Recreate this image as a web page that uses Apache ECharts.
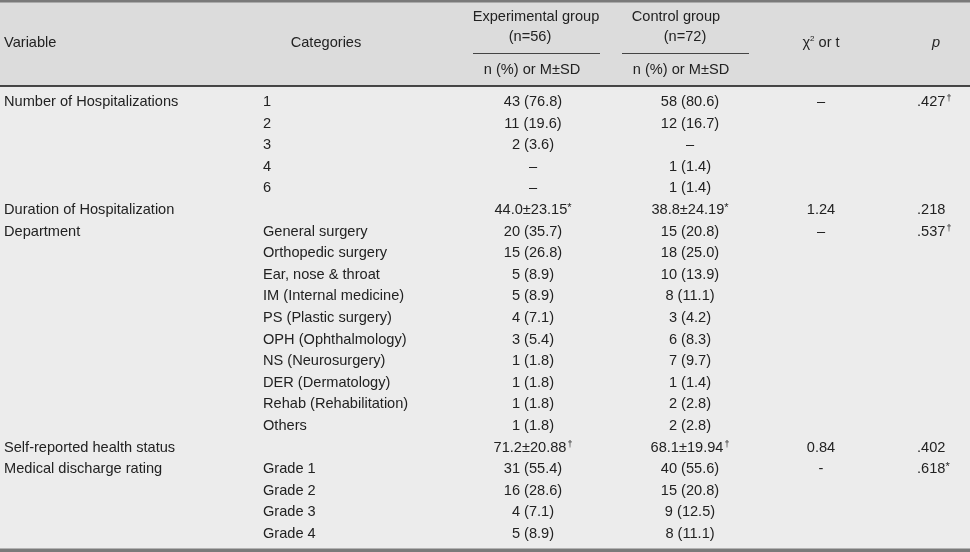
<!DOCTYPE html>
<html><head><meta charset="utf-8">
<script src="https://cdn.jsdelivr.net/npm/echarts@6/dist/echarts.min.js"></script>
<style>html,body{margin:0;padding:0;background:#ececec}#c{width:970px;height:552px}</style>
</head><body><div id="c"></div>
<script>
// ---- table data (one entry per body row; '^' marks a superscript note) ----
const variables = ['Number of Hospitalizations','','','','','Duration of Hospitalization','Department','','','','','','','','','','Self-reported health status','Medical discharge rating','','',''];
const categories = ['1','2','3','4','6','','General surgery','Orthopedic surgery','Ear, nose & throat','IM (Internal medicine)','PS (Plastic surgery)','OPH (Ophthalmology)','NS (Neurosurgery)','DER (Dermatology)','Rehab (Rehabilitation)','Others','','Grade 1','Grade 2','Grade 3','Grade 4'];
const expValues = ['43 (76.8)','11 (19.6)','2 (3.6)','–','–','44.0±23.15^*','20 (35.7)','15 (26.8)','5 (8.9)','5 (8.9)','4 (7.1)','3 (5.4)','1 (1.8)','1 (1.8)','1 (1.8)','1 (1.8)','71.2±20.88^†','31 (55.4)','16 (28.6)','4 (7.1)','5 (8.9)'];
const ctrlValues = ['58 (80.6)','12 (16.7)','–','1 (1.4)','1 (1.4)','38.8±24.19^*','15 (20.8)','18 (25.0)','10 (13.9)','8 (11.1)','3 (4.2)','6 (8.3)','7 (9.7)','1 (1.4)','2 (2.8)','2 (2.8)','68.1±19.94^†','40 (55.6)','15 (20.8)','9 (12.5)','8 (11.1)'];
const statValues = ['–','','','','','1.24','–','','','','','','','','','','0.84','-','','',''];
const pValues = ['.427^†','','','','','.218','.537^†','','','','','','','','','','.402','.618^*','','',''];
const headers = {variable:'Variable', category:'Categories', exp:['Experimental group','(n=56)'], ctrl:['Control group','(n=72)'], sub:'n (%) or M±SD', p:'p'};

const rowIdx = variables.map((_, i) => String(i));
const TXT = '#222';
const FONT = 'Liberation Sans';
const FS = 14.6;
const rich = {
  b: {fontSize: FS, fontFamily: FONT, color: TXT, lineHeight: 16},
  s: {fontSize: 9, fontFamily: FONT, color: TXT, lineHeight: 16, verticalAlign: 'top', padding:[0,0,6,1]},
  a: {fontSize: 11, fontFamily: FONT, color: TXT, lineHeight: 16, verticalAlign: 'top', padding:[0,0,5,0]}
};
function fmt(p) {
  const v = p.data[2];
  if (!v) return '';
  const parts = v.split('^');
  if (!parts[1]) return '{b|' + parts[0] + '}';
  return '{b|' + parts[0] + '}' + (parts[1] === '*' ? '{a|*}' : '{s|' + parts[1] + '}');
}
// column anchors (layout)
const cols = [
  {vals: variables, x: 4, align: 'left'},
  {vals: categories, x: 263, align: 'left'},
  {vals: expValues, x: 533, align: 'center'},
  {vals: ctrlValues, x: 690, align: 'center'},
  {vals: statValues, x: 821, align: 'center'},
  {vals: pValues, x: 917, align: 'left'}
];
const series = cols.map(c => ({
  type: 'scatter', symbolSize: 1, itemStyle: {color: 'rgba(0,0,0,0)', opacity: 1}, silent: true,
  data: c.vals.map((v, i) => [c.x, String(i), v]),
  label: {show: true, position: 'inside', align: c.align, verticalAlign: 'middle', formatter: fmt, rich: rich}
}));

const hText = (x, y, text, align, extra) => ({
  type: 'text', x: x, y: y, silent: true,
  style: Object.assign({text: text, fill: TXT, font: FS + 'px "' + FONT + '"', align: align || 'center', verticalAlign: 'middle'}, extra || {})
});

const chart = echarts.init(document.getElementById('c'), null, {renderer: 'canvas'});
chart.setOption({
  backgroundColor: '#ececec',
  animation: false,
  grid: {left: 0, right: 0, top: 91.2, bottom: 7.2},
  xAxis: {type: 'value', min: 0, max: 970, show: false},
  yAxis: {type: 'category', data: rowIdx, inverse: true, show: false},
  series: series,
  graphic: [
    {type: 'rect', shape: {x: 0, y: 0, width: 970, height: 86}, style: {fill: '#dcdcdc'}, silent: true},
    {type: 'rect', shape: {x: 0, y: 0, width: 970, height: 2.5}, style: {fill: '#7a7a7a'}, silent: true},
    {type: 'rect', shape: {x: 0, y: 548.5, width: 970, height: 3.5}, style: {fill: '#7a7a7a'}, silent: true},
    {type: 'line', shape: {x1: 0, y1: 86, x2: 970, y2: 86}, style: {stroke: '#111', lineWidth: 1.5}, silent: true},
    {type: 'line', shape: {x1: 473, y1: 53.5, x2: 600, y2: 53.5}, style: {stroke: '#444', lineWidth: 1}, silent: true},
    {type: 'line', shape: {x1: 622, y1: 53.5, x2: 749, y2: 53.5}, style: {stroke: '#444', lineWidth: 1}, silent: true},
    hText(4, 43, headers.variable, 'left'),
    hText(326, 43, headers.category),
    hText(536, 17, headers.exp[0]),
    hText(530, 37, headers.exp[1]),
    hText(532, 70, headers.sub),
    hText(676, 17, headers.ctrl[0]),
    hText(685, 37, headers.ctrl[1]),
    hText(681, 70, headers.sub),
    {type: 'text', x: 821, y: 43, silent: true, style: {text: '{a|χ}{s|2}{a| or t}', align: 'center', verticalAlign: 'middle',
      rich: {a: {fontSize: FS, fontFamily: FONT, fill: TXT, color: TXT, lineHeight: 16}, s: {fontSize: 8, fontFamily: FONT, fill: TXT, color: TXT, lineHeight: 16, verticalAlign: 'top', padding:[0,0,6,0]}}}},
    hText(936, 43, headers.p, 'center', {font: 'italic ' + FS + 'px "' + FONT + '"'})
  ]
});
</script></body></html>
